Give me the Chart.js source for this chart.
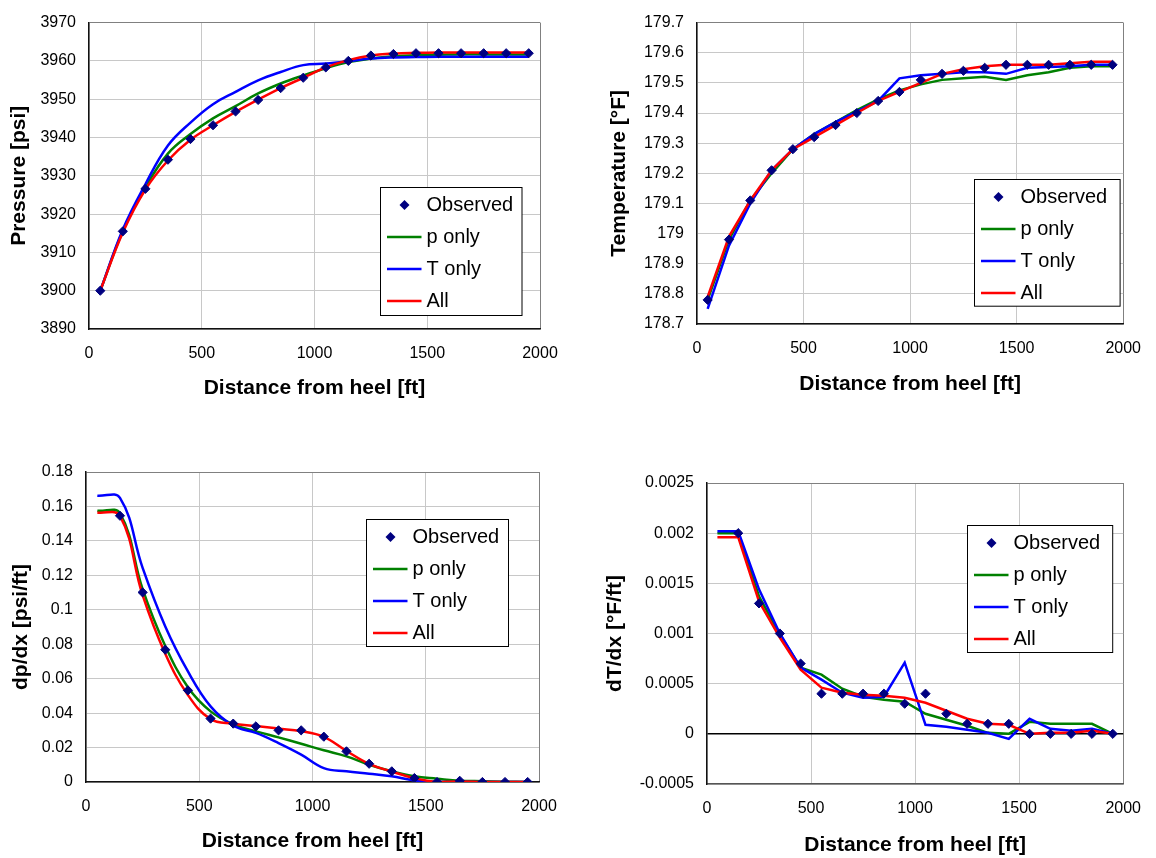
<!DOCTYPE html>
<html>
<head>
<meta charset="utf-8">
<script src="https://cdn.jsdelivr.net/npm/chart.js@4"></script>
<style>
  html, body { margin: 0; padding: 0; background: #fff; }
  #page { position: relative; width: 1156px; height: 858px; }
  canvas { position: absolute; }
</style>
</head>
<body>
<div id="page">
  <canvas id="pressureChart" width="578" height="429" style="left:0;top:0"></canvas>
  <canvas id="temperatureChart" width="578" height="429" style="left:578px;top:0"></canvas>
  <canvas id="dpdxChart" width="578" height="429" style="left:0;top:429px"></canvas>
  <canvas id="dTdxChart" width="578" height="429" style="left:578px;top:429px"></canvas>
</div>
<script>
// --- data ---
const distance = [50, 150, 250, 350, 450, 550, 650, 750, 850, 950, 1050, 1150, 1250, 1350, 1450, 1550, 1650, 1750, 1850, 1950];
const distanceTicks = [0, 500, 1000, 1500, 2000];

const pressureObserved = [3900.0, 3915.5, 3926.6, 3934.2, 3939.6, 3943.2, 3946.8, 3949.8, 3952.9, 3955.6, 3958.3, 3960.0, 3961.4, 3961.8, 3962.0, 3962.0, 3962.0, 3962.0, 3962.0, 3962.0];
const pressurePOnly    = [3900.0, 3915.6, 3927.0, 3935.8, 3940.9, 3945.0, 3948.2, 3951.5, 3954.1, 3956.2, 3958.1, 3959.7, 3960.6, 3961.2, 3961.5, 3961.6, 3961.7, 3961.7, 3961.7, 3961.7];
const pressureTOnly    = [3900.0, 3916.0, 3927.8, 3937.9, 3943.9, 3948.7, 3951.9, 3954.9, 3957.1, 3958.9, 3959.3, 3959.9, 3960.6, 3960.9, 3961.0, 3961.1, 3961.1, 3961.1, 3961.1, 3961.1];
const pressureAll      = [3900.0, 3915.2, 3926.4, 3934.0, 3939.4, 3943.2, 3946.7, 3949.9, 3952.9, 3955.6, 3958.3, 3960.2, 3961.4, 3961.9, 3962.1, 3962.2, 3962.2, 3962.2, 3962.2, 3962.2];
const pressureTicks = [3890, 3900, 3910, 3920, 3930, 3940, 3950, 3960, 3970];

const temperatureObserved = [178.78, 178.98, 179.11, 179.21, 179.28, 179.32, 179.36, 179.40, 179.44, 179.47, 179.51, 179.53, 179.54, 179.55, 179.56, 179.56, 179.56, 179.56, 179.56, 179.56];
const temperaturePOnly    = [178.78, 178.98, 179.11, 179.20, 179.28, 179.33, 179.37, 179.41, 179.445, 179.475, 179.495, 179.51, 179.515, 179.52, 179.51, 179.525, 179.535, 179.55, 179.555, 179.555];
const temperatureTOnly    = [178.75, 178.96, 179.10, 179.21, 179.28, 179.33, 179.37, 179.405, 179.44, 179.515, 179.525, 179.53, 179.535, 179.535, 179.53, 179.55, 179.553, 179.555, 179.56, 179.56];
const temperatureAll      = [178.79, 178.99, 179.11, 179.21, 179.28, 179.32, 179.36, 179.40, 179.44, 179.47, 179.50, 179.53, 179.545, 179.555, 179.56, 179.56, 179.56, 179.565, 179.57, 179.57];
const temperatureTicks = [178.7, 178.8, 178.9, 179, 179.1, 179.2, 179.3, 179.4, 179.5, 179.6, 179.7];

const dpdxObserved = [null, 0.1546, 0.1101, 0.0768, 0.0532, 0.0368, 0.0339, 0.0323, 0.0300, 0.0300, 0.0263, 0.0178, 0.0106, 0.0062, 0.0023, 0.0000, 0.0007, 0.0000, 0.0000, 0.0000];
const dpdxPOnly    = [0.1575, 0.1560, 0.1120, 0.0790, 0.0550, 0.0410, 0.0335, 0.0294, 0.0259, 0.0222, 0.0184, 0.0149, 0.0100, 0.0062, 0.0033, 0.0019, 0.0007, 0.0005, 0.0002, 0.0000];
const dpdxTOnly    = [0.1662, 0.1650, 0.1243, 0.0903, 0.0642, 0.0439, 0.0327, 0.0285, 0.0226, 0.0159, 0.0081, 0.0062, 0.0048, 0.0033, 0.0009, 0.0002, 0.0000, 0.0000, 0.0000, 0.0000];
const dpdxAll      = [0.1565, 0.1545, 0.1085, 0.0745, 0.0505, 0.0365, 0.0338, 0.0325, 0.0310, 0.0295, 0.0262, 0.0180, 0.0105, 0.0060, 0.0022, 0.0000, 0.0003, 0.0000, 0.0000, 0.0000];
const dpdxTicks = [0, 0.02, 0.04, 0.06, 0.08, 0.1, 0.12, 0.14, 0.16, 0.18];

const dTdxObserved = [null, 0.0020, 0.0013, 0.0010, 0.0007, 0.0004, 0.0004, 0.0004, 0.0004, 0.0003, 0.0004, 0.0002, 0.0001, 0.0001, 0.0001, 0, 0, 0, 0, 0];
const dTdxPOnly    = [0.00200, 0.00200, 0.00137, 0.00099, 0.00066, 0.00059, 0.00045, 0.00037, 0.00034, 0.00032, 0.00020, 0.00014, 0.00008, 0.00001, 0.00000, 0.00012, 0.00010, 0.00010, 0.00010, 0];
const dTdxTOnly    = [0.00202, 0.00202, 0.00144, 0.00100, 0.00066, 0.00054, 0.00041, 0.00036, 0.00037, 0.00071, 0.00009, 0.00007, 0.00004, 0.00001, -0.00005, 0.00015, 0.00005, 0.00003, 0.00005, 0];
const dTdxAll      = [0.00196, 0.00196, 0.00132, 0.00096, 0.00064, 0.00046, 0.00041, 0.00039, 0.00038, 0.00036, 0.00031, 0.00023, 0.00015, 0.00010, 0.00009, 0, 0.00001, 0.00001, 0.00003, 0];
const dTdxTicks = [-0.0005, 0, 0.0005, 0.001, 0.0015, 0.002, 0.0025];

// --- styling ---
const FONT = '"Liberation Sans", Arial, sans-serif';
const observedColor = '#000080';
const pColor = '#008000';
const tColor = '#0000ff';
const allColor = '#ff0000';
const LINE_W = 2.5;

Chart.defaults.font.family = FONT;
Chart.defaults.color = '#000';

const toPoints = ys => distance.map((x, i) => ({ x: x, y: ys[i] }));

function drawDiamond(ctx, x, y, r) {
    ctx.beginPath();
    ctx.moveTo(x, y - r);
    ctx.lineTo(x + r, y);
    ctx.lineTo(x, y + r);
    ctx.lineTo(x - r, y);
    ctx.closePath();
    ctx.fill();
}

// legend box drawn inside the plot area, like the Excel original
const insideLegend = {
    id: 'insideLegend',
    afterDraw(chart, args, opts) {
        const { ctx, chartArea } = chart;
        const bx = Math.round(chartArea.left + opts.x) + 0.5;
        const by = Math.round(chartArea.top + opts.y) + 0.5;
        ctx.save();
        ctx.fillStyle = '#fff';
        ctx.fillRect(bx, by, opts.w, opts.h);
        ctx.strokeStyle = '#000';
        ctx.lineWidth = 1;
        ctx.strokeRect(bx, by, opts.w, opts.h);
        ctx.font = '20px ' + FONT;
        ctx.textBaseline = 'middle';
        chart.data.datasets.forEach((ds, i) => {
            const ry = by + 17.5 + i * 32;
            if (ds.showLine === false) {
                ctx.fillStyle = ds.backgroundColor;
                drawDiamond(ctx, bx + 24, ry, 5);
            } else {
                ctx.strokeStyle = ds.borderColor;
                ctx.lineWidth = LINE_W;
                ctx.beginPath();
                ctx.moveTo(bx + 6.5, ry);
                ctx.lineTo(bx + 41, ry);
                ctx.stroke();
            }
            ctx.fillStyle = '#000';
            ctx.fillText(ds.label, bx + 46, ry);
        });
        ctx.restore();
    }
};

function gridColor(ticks, darkValue) {
    return ctx => {
        const v = ctx.tick && ctx.tick.value;
        if (v === ticks[ticks.length - 1]) return '#808080';
        if (darkValue !== undefined && v === darkValue) return '#000';
        return '#c8c8c8';
    };
}

function makeChart(id, cfg) {
    const canvas = document.getElementById(id);
    return new Chart(canvas.getContext('2d'), {
        type: 'line',
        data: {
            datasets: [
                { label: 'Observed', data: toPoints(cfg.observed), showLine: false, order: 0,
                  pointStyle: 'rectRot', pointRadius: 4.6, borderWidth: 1,
                  backgroundColor: observedColor, borderColor: observedColor },
                { label: 'p only', data: toPoints(cfg.pOnly), order: 3, borderColor: pColor },
                { label: 'T only', data: toPoints(cfg.tOnly), order: 2, borderColor: tColor },
                { label: 'All', data: toPoints(cfg.all), order: 1, borderColor: allColor }
            ]
        },
        options: {
            responsive: false,
            animation: false,
            devicePixelRatio: 1,
            layout: { padding: { top: cfg.pad.top, right: cfg.pad.right, left: 0, bottom: 0 } },
            elements: {
                line: { borderWidth: LINE_W, tension: cfg.smooth ? 0.4 : 0, fill: false },
                point: { radius: 0 }
            },
            datasets: { line: { pointRadius: 0 } },
            plugins: {
                legend: { display: false },
                tooltip: { enabled: false },
                insideLegend: cfg.legendBox
            },
            scales: {
                x: {
                    type: 'linear',
                    min: distanceTicks[0],
                    max: distanceTicks[distanceTicks.length - 1],
                    afterBuildTicks: s => { s.ticks = distanceTicks.map(v => ({ value: v })); },
                    afterFit: s => { s.height = cfg.xHeight; },
                    ticks: { font: { size: 16 }, color: '#000', padding: 15, maxRotation: 0,
                             callback: v => String(v) },
                    grid: { color: gridColor(distanceTicks), drawTicks: false, lineWidth: 1 },
                    border: { color: cfg.xBorder || '#111', width: 1.5 },
                    title: { display: true, text: 'Distance from heel [ft]',
                             font: { size: 21, weight: 'bold' }, color: '#000',
                             padding: { top: 0, bottom: cfg.xTitlePad } }
                },
                y: {
                    type: 'linear',
                    min: cfg.yTicks[0],
                    max: cfg.yTicks[cfg.yTicks.length - 1],
                    afterBuildTicks: s => { s.ticks = cfg.yTicks.map(v => ({ value: v })); },
                    afterFit: s => { s.width = cfg.yWidth; },
                    ticks: { font: { size: 16 }, color: '#000', padding: 13,
                             callback: v => String(v) },
                    grid: { color: gridColor(cfg.yTicks, cfg.zeroLine), drawTicks: false,
                            lineWidth: ctx => (cfg.zeroLine !== undefined && ctx.tick && ctx.tick.value === cfg.zeroLine) ? 1.5 : 1 },
                    border: { color: '#111', width: 1.5 },
                    title: { display: true, text: cfg.yTitle,
                             font: { size: 21, weight: 'bold' }, color: '#000',
                             padding: { top: cfg.yTitlePad, bottom: 0 } }
                }
            }
        },
        plugins: [insideLegend]
    });
}

document.addEventListener('DOMContentLoaded', function () {
    makeChart('pressureChart', {
        observed: pressureObserved, pOnly: pressurePOnly, tOnly: pressureTOnly, all: pressureAll,
        yTicks: pressureTicks, smooth: true, yTitle: 'Pressure [psi]',
        pad: { top: 19, right: 38 }, yWidth: 89, xHeight: 100,
        yTitlePad: 6.4, xTitlePad: 28.4,
        legendBox: { x: 290.5, y: 164, w: 141.5, h: 128 }
    });

    makeChart('temperatureChart', {
        observed: temperatureObserved, pOnly: temperaturePOnly, tOnly: temperatureTOnly, all: temperatureAll,
        yTicks: temperatureTicks, smooth: false, yTitle: 'Temperature [\u00B0F]',
        pad: { top: 22, right: 19 }, yWidth: 119, xHeight: 105,
        yTitlePad: 28.4, xTitlePad: 32.4,
        legendBox: { x: 276.7, y: 156.3, w: 145.6, h: 126.7 }
    });

    makeChart('dpdxChart', {
        observed: dpdxObserved, pOnly: dpdxPOnly, tOnly: dpdxTOnly, all: dpdxAll,
        yTicks: dpdxTicks, smooth: true, yTitle: 'dp/dx [psi/ft]',
        pad: { top: 43, right: 39 }, yWidth: 86, xHeight: 76,
        yTitlePad: 8.4, xTitlePad: 3.7,
        legendBox: { x: 280, y: 47, w: 142, h: 127 }
    });

    makeChart('dTdxChart', {
        observed: dTdxObserved, pOnly: dTdxPOnly, tOnly: dTdxTOnly, all: dTdxAll,
        yTicks: dTdxTicks, smooth: false, yTitle: 'dT/dx [\u00B0F/ft]', zeroLine: 0,
        xBorder: '#555',
        pad: { top: 54, right: 23 }, yWidth: 129, xHeight: 74,
        yTitlePad: 24.4, xTitlePad: 0.4,
        legendBox: { x: 259.8, y: 42.3, w: 145.2, h: 127 }
    });
});
</script>
</body>
</html>
